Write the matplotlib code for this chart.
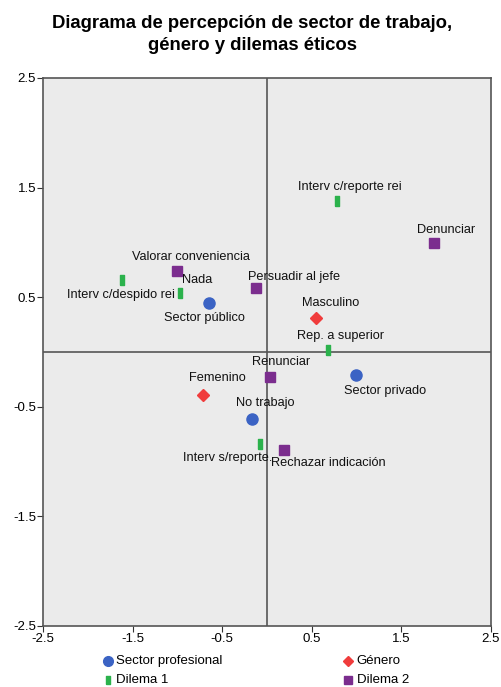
import matplotlib
matplotlib.use("Agg")
import matplotlib.pyplot as plt

# =========================================================
# DATOS
# =========================================================

sector_labels = ["Sector público", "Sector privado", "No trabajo"]
sector_x = [-0.65, 0.99, -0.17]
sector_y = [0.45, -0.21, -0.61]

genero_labels = ["Masculino", "Femenino"]
genero_x = [0.55, -0.71]
genero_y = [0.31, -0.39]

dilema1_labels = ["Interv c/reporte rei", "Rep. a superior", "Nada",
                  "Interv c/despido rei", "Interv s/reporte."]
dilema1_x = [0.78, 0.68, -0.97, -1.62, -0.08]
dilema1_y = [1.38, 0.02, 0.54, 0.66, -0.84]

dilema2_labels = ["Denunciar", "Valorar conveniencia", "Persuadir al jefe",
                  "Renunciar", "Rechazar indicación"]
dilema2_x = [1.86, -1.00, -0.12, 0.03, 0.19]
dilema2_y = [0.99, 0.74, 0.58, -0.23, -0.89]

ticks = [-2.5, -1.5, -0.5, 0.5, 1.5, 2.5]

# desplazamiento de etiquetas (puntos)
offsets = {
    "Sector público": (-3, -11), "Sector privado": (21, -11.5), "No trabajo": (9.5, 11.5),
    "Masculino": (10, 11), "Femenino": (10, 12),
    "Interv c/reporte rei": (9, 10), "Rep. a superior": (9, 10), "Nada": (12, 9.5),
    "Interv c/despido rei": (-1, -11), "Interv s/reporte.": (-23, -10),
    "Denunciar": (9, 10), "Valorar conveniencia": (10, 10), "Persuadir al jefe": (27, 8.5),
    "Renunciar": (8, 11), "Rechazar indicación": (32, -10),
}

plt.rcParams['font.family'] = ['Liberation Sans', 'DejaVu Sans']

C_BLUE = "#3b63c4"
C_RED = "#f03c3c"
C_GREEN = "#2bb24c"
C_PURPLE = "#7b2d8e"
green_marker = [(-0.22, -0.5), (0.22, -0.5), (0.22, 0.5), (-0.22, 0.5), (-0.22, -0.5)]

fig = plt.figure(figsize=(5.01, 6.87), dpi=100)
ax = fig.add_axes([0.086, 0.0888, 0.894, 0.7977])
ax.set_facecolor("#ebebeb")

ax.axhline(0, color="#555555", lw=1.2, zorder=1)
ax.axvline(0, color="#555555", lw=1.2, zorder=1)

ax.plot(sector_x, sector_y, "o", color=C_BLUE, ms=8, ls="none", zorder=3)
ax.plot(genero_x, genero_y, "D", color=C_RED, ms=6.5, ls="none", zorder=3)
ax.plot(dilema1_x, dilema1_y, marker=green_marker, color=C_GREEN, ms=6.5, ls="none", zorder=3)
ax.plot(dilema2_x, dilema2_y, "s", color=C_PURPLE, ms=6.5, ls="none", zorder=3)

for labels, xs, ys in [(sector_labels, sector_x, sector_y),
                       (genero_labels, genero_x, genero_y),
                       (dilema1_labels, dilema1_x, dilema1_y),
                       (dilema2_labels, dilema2_x, dilema2_y)]:
    for lab, x, y in zip(labels, xs, ys):
        dx, dy = offsets[lab]
        ax.annotate(lab, (x, y), xytext=(dx, dy), textcoords="offset points",
                    ha="center", va="center", fontsize=9.2, color="#111111", zorder=4)

ax.set_xlim(-2.5, 2.5)
ax.set_ylim(-2.5, 2.5)
ax.set_xticks(ticks)
ax.set_yticks(ticks)
ax.set_xticklabels([f"{t}" for t in ticks])
ax.set_yticklabels([f"{t}" for t in ticks])
ax.tick_params(direction="out", length=4, labelsize=9.5, pad=1, color="#333333")
for s in ax.spines.values():
    s.set_color("#555555")
    s.set_linewidth(1.2)

fig.text(0.503, 0.9495, "Diagrama de percepción de sector de trabajo,\ngénero y dilemas éticos",
         ha="center", va="center", fontsize=13.3, fontweight="bold", linespacing=1.42)

# leyenda manual
legend_items = [
    (0.215, 0.038, "o", C_BLUE, 7, "Sector profesional"),
    (0.695, 0.038, "D", C_RED, 5.5, "Género"),
    (0.215, 0.010, green_marker, C_GREEN, 6, "Dilema 1"),
    (0.695, 0.010, "s", C_PURPLE, 5.5, "Dilema 2"),
]
for x, y, m, c, ms, lab in legend_items:
    fig.lines.append(plt.Line2D([x], [y], marker=m, color=c, ms=ms, ls="none",
                                transform=fig.transFigure))
    fig.text(x + 0.017, y, lab, ha="left", va="center", fontsize=9.5)

fig.savefig("out.png", dpi=100)
